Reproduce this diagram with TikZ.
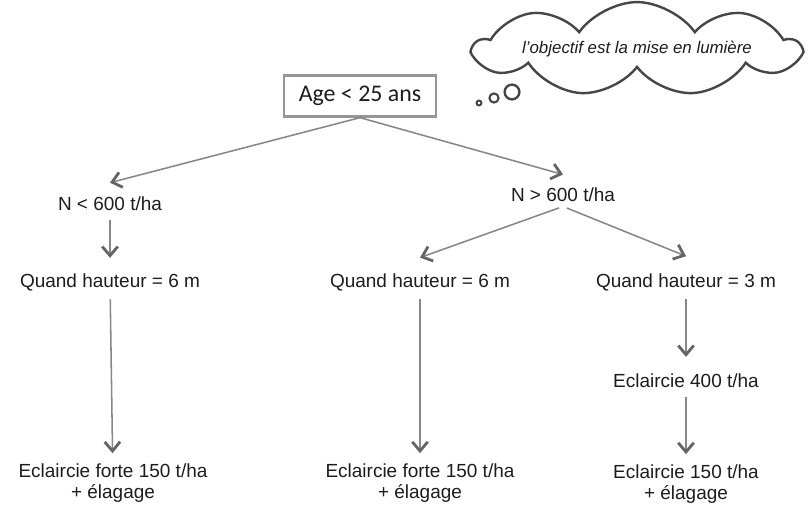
\documentclass[tikz,border=0pt]{standalone}
\usepackage{fontspec}
\setmainfont{Liberation Sans}
\newfontfamily\boxfont{Carlito}
\usetikzlibrary{arrows.meta, shapes.symbols}
\usetikzlibrary{positioning}
\definecolor{linegray}{RGB}{135,135,135}
\definecolor{headgray}{RGB}{100,100,100}
\definecolor{boxgray}{RGB}{150,150,150}
\definecolor{cloudgray}{RGB}{70,70,70}
\definecolor{txt}{RGB}{28,28,28}

\begin{document}
\begin{tikzpicture}[x=0.025cm, y=-0.025cm,
		lbl/.style={text=txt, font=\fontsize{13.5}{14.5}\selectfont, inner sep=3pt, align=center},
		arr/.style={draw=linegray, line width=1.1pt, -{Straight Barb[length=6.5pt, width=11pt, line width=2pt, color=headgray]}, shorten <=3pt, shorten >=4.5pt},
		bubble/.style={circle, draw=cloudgray, inner sep=0pt}]
		\useasboundingbox (0,0) rectangle (810,513);
		
		\node[cloud, cloud puffs=9, cloud puff arc=110, cloud ignores aspect, draw=cloudgray, line width=1.7pt, minimum width=229pt, minimum height=55pt, text=txt, font=\itshape\fontsize{12}{14}\selectfont] (cloud) at (637,49) {l'objectif est la mise en lumière};
		\node[bubble, line width=1.4pt, minimum size=3.5pt] (bub1) at (479,103) {};
		\node[bubble, line width=1.5pt, minimum size=6.5pt] (bub2) at (494,98) {};
		\node[bubble, line width=1.7pt, minimum size=10.5pt, fill=white] (bub3) at (512,92) {};
		
		\node[draw=boxgray, line width=1.8pt, minimum width=108pt, minimum height=29pt, inner sep=0pt, text=txt, font=\boxfont\fontsize{17}{20}\selectfont] (age) at (360,96) {Age < 25 ans};
		
		\node[lbl] (nlow) at (110,204) {N < 600 t/ha};
		\node[lbl] (nhigh) at (563,195) {N > 600 t/ha};
		
		\node[lbl] (qlow) at (110,282) {Quand hauteur = 6 m};
		\node[lbl] (qmid) at (420,282) {Quand hauteur = 6 m};
		\node[lbl] (qhigh) at (686,282) {Quand hauteur = 3 m};
		
		\node[lbl] (e400) at (686,381) {Eclaircie 400 t/ha};
		
		\node[lbl] (elow) at (113,483) {Eclaircie forte 150 t/ha\\+ élagage};
		\node[lbl] (emid) at (420,483) {Eclaircie forte 150 t/ha\\+ élagage};
		\node[lbl] (ehigh) at (686,484) {Eclaircie 150 t/ha\\+ élagage};
		
		\draw[arr, shorten <=0pt, shorten >=0pt] (age.south) -- ([yshift=7pt]nlow.north);
		\draw[arr, shorten <=0pt, shorten >=0pt] (age.south) -- ([yshift=6.4pt]nhigh.north);
		\draw[arr, shorten >=7.8pt] (nlow) -- (qlow);
		\draw[arr, shorten >=0pt] (nhigh.south) -- ([yshift=8pt]qmid.north);
		\draw[arr, shorten >=0pt] (nhigh.south) -- ([yshift=9pt]qhigh.north);
		\draw[arr] (qlow) -- (elow);
		\draw[arr] (qmid) -- (emid);
		\draw[arr, shorten >=9pt] (qhigh) -- (e400);
		\draw[arr] (e400) -- (ehigh);
	\end{tikzpicture}
\end{document}
